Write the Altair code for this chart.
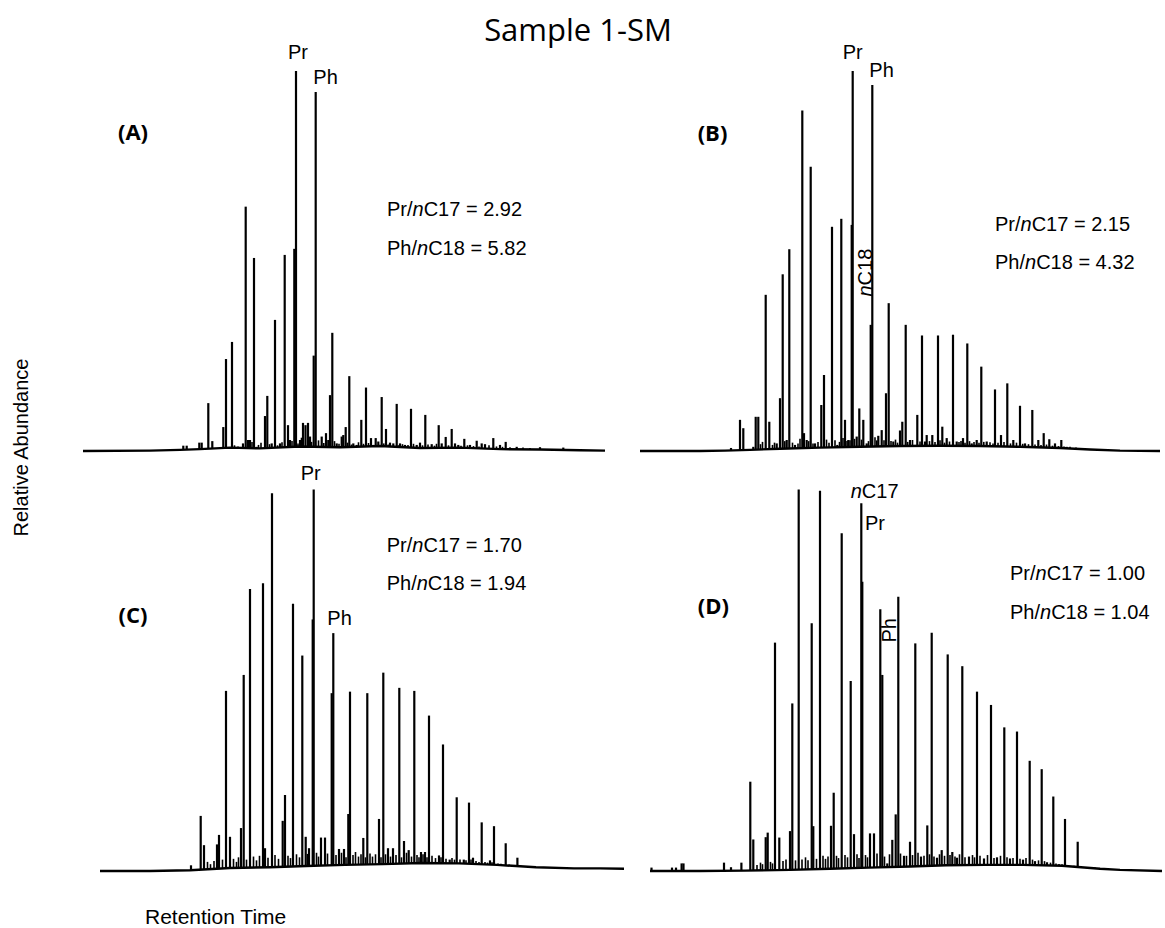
import altair as alt
import numpy as np
import pandas as pd

# ---------------- text ----------------
TITLE = "Sample 1-SM"
Y_TITLE = "Relative Abundance"
X_TITLE = "Retention Time"
PANEL_NAMES = ["(A)", "(B)", "(C)", "(D)"]
PR_NC17 = [2.92, 2.15, 1.70, 1.00]
PH_NC18 = [5.82, 4.32, 1.94, 1.04]

# ---------------- chromatogram data (retention position, relative abundance) ----------------
A_RT = [183.3, 186.7, 199.3, 201.7, 208.3, 212.3, 223.3, 226.0, 232.0, 243.0, 245.7, 248.0, 250.0,
        254.0, 256.7, 265.0, 267.3, 271.7, 275.0, 280.0, 284.7, 288.0, 290.0, 294.3, 296.0, 300.0,
        303.0, 305.5, 308.0, 310.0, 313.7, 315.7, 321.7, 326.0, 328.3, 330.0, 332.3, 336.7, 341.7,
        343.3, 345.7, 349.3, 353.3, 356.7, 361.3, 366.0, 371.0, 375.7, 378.3, 381.7, 386.0, 390.0,
        393.3, 396.7, 400.0, 405.0, 411.0, 416.7, 420.0, 425.3, 431.7, 438.7, 441.7, 445.7, 451.7,
        455.0, 458.3, 464.3, 470.0, 476.7, 481.7, 485.0, 493.3, 500.0, 505.7, 516.7, 540.0, 563.3]
A_H = [1.4, 1.4, 2.2, 2.2, 12.6, 2.6, 6.3, 24.2, 28.7, 2.0, 64.3, 2.9, 2.9,
       50.8, 1.1, 9.2, 14.5, 2.0, 34.5, 2.0, 51.6, 6.8, 2.9, 53.2, 100.0, 2.9,
       7.4, 6.8, 7.4, 3.8, 25.1, 94.5, 3.8, 4.7, 2.9, 14.7, 31.1, 2.0, 3.8,
       4.2, 6.3, 19.7, 2.0, 1.6, 8.2, 16.7, 3.4, 3.4, 2.5, 14.2, 5.8, 2.2,
       2.0, 12.4, 2.0, 1.6, 11.1, 1.6, 2.2, 9.5, 1.8, 6.8, 2.0, 3.7, 5.8,
       2.0, 1.6, 3.2, 1.6, 2.7, 2.0, 1.8, 3.4, 1.6, 2.4, 1.1, 1.0, 0.9]
A_NOISE_RT = [234.5, 238.0, 252.0, 258.5, 261.0, 269.5, 277.5, 282.0, 292.0, 298.0, 301.5, 311.5,
              318.5, 323.8, 334.5, 339.0, 347.5, 351.5, 358.5, 363.5, 368.5, 373.3, 383.8, 388.2,
              398.5, 402.5, 408.0, 413.5, 422.5, 428.0, 434.5, 436.5, 448.5, 461.0, 467.5, 473.5,
              479.0, 489.0, 496.5, 502.5, 510.0, 523.0, 530.0]
A_NOISE_H = [1.5, 1.2, 2.4, 1.6, 2.2, 1.8, 1.5, 2.3, 2.6, 2.0, 3.5, 2.4,
             2.8, 2.1, 2.6, 1.9, 2.2, 1.7, 2.3, 1.9, 2.1, 1.6, 2.0, 1.7,
             1.5, 1.8, 1.6, 1.9, 1.5, 1.7, 1.4, 1.9, 1.5, 1.4, 1.5, 1.3,
             1.2, 1.5, 1.2, 1.1, 1.0, 0.9, 0.8]
A_BASE_RT = [83, 150, 180, 200, 230, 260, 300, 340, 380, 420, 460, 500, 540, 580, 605]
A_BASE_H = [0.0, 0.1, 0.3, 0.5, 0.9, 0.7, 1.2, 1.0, 1.3, 0.8, 0.9, 0.5, 0.4, 0.2, 0.1]

B_RT = [731.0, 740.0, 743.3, 753.3, 755.7, 758.3, 765.7, 769.3, 776.7, 780.0, 782.7, 786.7, 789.3,
        795.0, 802.3, 804.0, 806.7, 810.7, 815.0, 821.3, 824.0, 832.0, 837.3, 841.3, 845.0, 848.3,
        851.7, 852.7, 856.7, 859.3, 863.3, 866.7, 870.7, 872.3, 878.3, 881.7, 886.0, 888.7, 893.3,
        900.0, 902.3, 905.7, 910.0, 917.3, 922.0, 925.0, 926.7, 932.3, 938.0, 942.3, 946.7, 953.0,
        956.7, 963.0, 967.3, 971.7, 976.7, 981.3, 986.7, 995.0, 1001.0, 1007.3, 1013.3, 1020.0,
        1025.0, 1032.3, 1038.3, 1043.7, 1049.3, 1055.0, 1061.3, 1066.7, 1083.3]
B_H = [0.8, 8.2, 6.0, 1.1, 9.0, 9.0, 41.1, 7.7, 2.0, 13.9, 46.5, 2.9, 53.1,
       1.6, 89.6, 4.7, 2.9, 74.8, 2.0, 12.1, 20.0, 59.0, 1.6, 61.1, 8.2, 2.9,
       59.5, 100.0, 3.8, 11.2, 8.2, 2.0, 33.2, 96.3, 4.0, 5.5, 15.2, 38.9, 2.5,
       5.4, 7.7, 33.2, 2.9, 9.5, 30.4, 2.5, 4.2, 4.2, 30.4, 6.4, 3.4, 30.6,
       2.5, 3.4, 28.3, 2.0, 2.9, 22.2, 2.5, 16.2, 4.2, 17.8, 2.9, 11.9,
       2.0, 10.8, 2.9, 4.7, 3.1, 2.0, 2.9, 1.1, 0.7]
B_NOISE_RT = [760.5, 762.5, 772.5, 774.5, 784.8, 792.5, 798.0, 800.0, 808.7, 813.0, 818.0, 826.5,
              829.0, 835.0, 839.5, 843.0, 847.0, 850.0, 854.5, 861.5, 868.5, 875.0, 876.8, 884.0,
              891.0, 895.5, 897.5, 907.7, 912.5, 920.0, 929.5, 935.0, 940.0, 944.5, 949.5, 959.0,
              961.0, 965.0, 969.5, 974.0, 979.0, 983.8, 990.0, 993.0, 998.0, 1004.0, 1010.5, 1016.5,
              1022.7, 1028.5, 1035.0, 1041.0, 1046.5, 1052.5, 1058.5, 1064.0, 1070.0, 1076.0]
B_NOISE_H = [1.8, 2.4, 1.6, 2.2, 2.6, 2.2, 2.0, 3.2, 2.6, 2.0, 2.4, 3.0,
             2.2, 2.8, 2.4, 3.4, 2.6, 2.8, 3.2, 3.0, 2.6, 3.6, 2.8, 2.8,
             2.6, 3.0, 2.2, 2.4, 2.9, 2.5, 2.6, 2.4, 2.8, 2.2, 2.5, 2.4,
             2.6, 2.2, 2.6, 2.4, 2.2, 2.4, 2.3, 2.0, 2.2, 2.4, 2.0, 2.2,
             1.9, 1.8, 1.7, 1.6, 1.7, 1.4, 1.3, 1.2, 1.1, 0.9]
B_BASE_RT = [640, 700, 725, 750, 780, 820, 860, 900, 940, 980, 1020, 1060, 1090, 1120, 1160]
B_BASE_H = [0.0, 0.0, 0.1, 0.3, 0.6, 0.9, 1.1, 1.3, 1.4, 1.3, 1.1, 0.8, 0.4, 0.1, 0.0]

C_RT = [191.0, 200.7, 204.0, 217.0, 219.0, 226.0, 230.0, 241.0, 243.7, 250.0, 263.0, 265.0, 272.0,
        282.7, 285.0, 293.0, 302.3, 305.7, 309.0, 312.7, 313.7, 321.0, 325.0, 331.7, 333.3, 339.0,
        344.0, 348.3, 350.0, 363.3, 367.3, 379.0, 383.3, 388.0, 393.0, 399.3, 404.0, 408.7, 414.3,
        421.0, 425.0, 429.0, 439.0, 443.0, 449.7, 456.7, 463.8, 469.0, 473.0, 481.7, 490.0, 494.0,
        505.7, 517.4, 534.0, 548.0, 559.0]
C_H = [1.5, 14.5, 6.8, 7.0, 9.5, 47.4, 9.0, 11.3, 51.6, 74.2, 75.7, 6.0, 99.4,
       13.2, 20.0, 70.3, 56.7, 9.0, 6.0, 66.2, 100.4, 8.8, 8.8, 46.8, 62.6, 5.8,
       5.8, 15.0, 47.2, 8.7, 46.8, 13.7, 52.2, 6.0, 6.0, 48.2, 7.9, 5.5, 47.4,
       5.0, 5.0, 40.9, 4.1, 33.3, 3.0, 19.4, 3.0, 18.0, 3.5, 12.8, 2.8, 11.8,
       7.3, 3.5, 1.0, 1.0, 1.0]
C_NOISE_RT = [207.5, 210.5, 214.0, 222.5, 233.5, 236.5, 238.5, 246.5, 253.5, 256.5, 259.5, 268.0,
              275.0, 278.5, 288.0, 290.5, 296.5, 299.5, 307.5, 316.5, 318.5, 327.5, 336.0, 341.5,
              346.0, 353.0, 355.5, 358.5, 361.0, 365.5, 370.0, 372.5, 375.5, 381.0, 385.5, 390.5,
              396.0, 401.5, 406.5, 411.5, 417.0, 419.0, 423.0, 427.0, 432.0, 435.5, 441.0, 446.0,
              452.0, 454.5, 460.0, 466.0, 471.0, 476.0, 479.0, 485.0, 487.5, 492.0, 498.0, 501.0,
              509.0, 513.0, 521.0, 525.0, 529.0, 540.0, 553.0, 565.0]
C_NOISE_H = [2.4, 1.8, 2.6, 3.0, 3.2, 2.4, 3.6, 3.0, 3.8, 2.8, 4.0, 3.5,
             4.2, 3.2, 4.0, 3.4, 4.4, 3.6, 4.5, 4.8, 3.8, 4.6, 4.2, 4.8,
             3.6, 4.2, 5.0, 3.8, 4.4, 3.6, 4.6, 3.8, 4.4, 3.6, 4.4, 3.8,
             4.2, 3.6, 4.8, 3.8, 4.2, 3.6, 4.4, 3.6, 4.0, 3.4, 3.6, 3.2,
             3.4, 3.0, 3.0, 2.8, 3.0, 2.6, 2.4, 2.4, 2.2, 2.3, 2.0, 1.9,
             1.7, 1.6, 1.4, 1.3, 1.2, 1.0, 0.9, 0.8]
C_BASE_RT = [100, 150, 190, 230, 270, 306, 345, 383, 421, 459, 497, 536, 574, 600, 624]
C_BASE_H = [0.0, 0.0, 0.2, 0.8, 1.0, 1.3, 1.6, 1.8, 2.1, 2.0, 1.6, 1.0, 0.7, 0.7, 0.6]

D_RT = [651.5, 672.0, 676.0, 681.6, 683.5, 724.0, 731.0, 741.4, 750.3, 753.3, 765.7, 767.7, 775.0,
        779.3, 790.0, 792.3, 798.7, 811.7, 813.3, 820.0, 831.0, 833.7, 841.7, 850.7, 854.0, 861.3,
        862.3, 870.0, 874.0, 880.3, 882.3, 887.3, 892.3, 895.7, 898.3, 904.0, 910.0, 915.3, 921.0,
        927.3, 931.7, 937.0, 941.7, 947.7, 952.3, 957.0, 962.3, 969.0, 977.0, 984.0, 991.0, 997.0,
        1004.3, 1010.0, 1017.0, 1023.0, 1029.7, 1035.0, 1041.7, 1047.0, 1053.3, 1059.0, 1065.0,
        1071.0, 1077.7, 1100.0]
D_H = [0.9, 0.9, 0.9, 2.0, 2.0, 2.2, 1.0, 2.2, 23.5, 8.3, 8.9, 10.1, 60.1,
       8.8, 10.5, 44.1, 100.4, 65.2, 11.8, 100.1, 11.9, 20.6, 88.9, 50.0, 9.7, 96.8,
       76.1, 9.9, 9.9, 68.9, 51.6, 2.0, 8.2, 14.9, 72.2, 4.0, 7.7, 59.9, 3.8,
       12.0, 62.7, 3.5, 5.5, 57.0, 5.0, 3.5, 53.9, 3.8, 47.2, 3.3, 43.7, 3.6,
       37.8, 3.3, 36.7, 3.0, 29.0, 2.6, 26.8, 2.3, 19.6, 1.8, 13.7,
       1.2, 7.7, 0.8]
D_NOISE_RT = [757.0, 760.5, 762.5, 770.5, 772.5, 783.0, 786.0, 795.5, 802.0, 805.5, 808.0, 816.5,
              823.0, 825.5, 828.0, 836.5, 838.5, 845.0, 847.5, 857.0, 859.0, 865.5, 867.5, 877.0,
              884.5, 889.5, 900.5, 906.5, 912.5, 918.0, 924.0, 929.5, 934.0, 939.5, 944.5, 950.0,
              955.0, 959.5, 965.0, 972.5, 974.5, 980.0, 987.5, 994.0, 1000.5, 1007.0, 1013.0,
              1020.0, 1026.0, 1032.5, 1038.5, 1044.5, 1050.5, 1056.0, 1062.0, 1068.0, 1074.0,
              1081.0, 1088.0, 1095.0]
D_NOISE_H = [1.6, 2.2, 1.8, 2.4, 2.0, 2.6, 3.0, 2.8, 3.0, 3.6, 2.8, 3.2,
             4.0, 3.2, 3.8, 4.0, 3.4, 4.2, 3.6, 4.4, 3.4, 4.2, 3.6, 4.6,
             3.8, 4.4, 4.6, 4.0, 4.2, 4.8, 4.0, 4.4, 3.8, 4.4, 4.0, 4.2,
             3.8, 4.4, 3.6, 4.2, 3.6, 4.0, 4.2, 3.4, 4.0, 3.6, 3.4,
             3.2, 3.4, 3.0, 2.8, 2.6, 2.2, 2.0, 1.8, 1.6, 1.4,
             1.2, 1.0, 0.9]
D_BASE_RT = [650, 700, 745, 790, 830, 869, 910, 946, 985, 1023, 1062, 1100, 1120, 1162]
D_BASE_H = [0.0, 0.0, 0.1, 0.3, 0.6, 0.9, 1.2, 1.5, 1.6, 1.6, 1.4, 0.6, 0.3, 0.0]

# ---------------- styling / layout ----------------
SANS = "Liberation Sans"
FS = 20
CW = {"P": .667, "r": .333, "h": .556, "n": .556, "C": .722, "/": .278, " ": .278,
      "=": .584, ".": .278}


def tw(s, fs=FS):
    return sum(CW.get(c, .556) for c in s) * fs


YLAB_W = 40
YBOT = -2.368
GEOM = {
    "A": dict(xdom=[40, 625], width=585, height=460, ytop=118.68),
    "B": dict(xdom=[625, 1165], width=540, height=460, ytop=118.68),
    "C": dict(xdom=[40, 625], width=585, height=420, ytop=108.16),
    "D": dict(xdom=[625, 1165], width=540, height=420, ytop=108.16),
}
# pixel positions inside each panel (annotation placement)
LETTER_XY = {"A": (93, 133), "B": (87.5, 133.5), "C": (93, 156), "D": (88.3, 147)}
RATIO_XY = {"A": (347, 210, 248.5), "B": (370, 224.5, 262.7), "C": (346.7, 86, 124.3),
            "D": (385, 114, 152.7)}
# sx, sy: screen offset (px) of the label anchor from the peak top
PEAK_LABELS = {
    "A": [dict(parts=[("Pr", 0)], at=296.0, sx=2, sy=-18, align="center"),
          dict(parts=[("Ph", 0)], at=315.7, sx=-2.4, sy=-14, align="left")],
    "B": [dict(parts=[("Pr", 0)], at=852.7, sx=0, sy=-17.5, align="center"),
          dict(parts=[("Ph", 0)], at=872.3, sx=-3, sy=-14, align="left"),
          dict(parts=[("n", 1), ("C18", 0)], at=870.7, sx=-4.7, sy=-28.3, align="left", angle=270)],
    "C": [dict(parts=[("Pr", 0)], at=313.7, sx=-3, sy=-15.8, align="center"),
          dict(parts=[("Ph", 0)], at=333.3, sx=-6, sy=-14, align="left")],
    "D": [dict(parts=[("n", 1), ("C17", 0)], at=861.3, sx=-10.6, sy=-11.3, align="left"),
          dict(parts=[("Pr", 0)], at=861.3, sx=3.7, sy=21.2, align="left"),
          dict(parts=[("Ph", 0)], at=880.3, sx=9.2, sy=21.2, align="center", angle=270)],
}


def text_at(txt, x, y, **mk):
    return alt.Chart(pd.DataFrame({"t": [txt]})).mark_text(**mk).encode(
        x=alt.value(x), y=alt.value(y), text="t:N")


def make_panel(key, idx, rt, h, nrt, nh, brt, bh):
    g = GEOM[key]
    xs = alt.Scale(domain=g["xdom"], nice=False, zero=False)
    ys = alt.Scale(domain=[YBOT, g["ytop"]], nice=False, zero=False)
    peaks = pd.DataFrame({"rt": rt, "top": h})
    peaks["bot"] = np.interp(peaks["rt"], brt, bh)
    noise = pd.DataFrame({"rt": nrt, "top": nh})
    noise["bot"] = np.interp(noise["rt"], brt, bh)
    base = pd.DataFrame({"rt": brt, "val": bh})

    X = alt.X("rt:Q", scale=xs, axis=None)
    layers = []
    layers.append(alt.Chart(noise).mark_rule(color="black", strokeWidth=1.6).encode(
        x=X, y=alt.Y("bot:Q", scale=ys, axis=None), y2="top:Q"))
    layers.append(alt.Chart(base).mark_line(color="black", strokeWidth=2.4, strokeJoin="round").encode(
        x=X, y=alt.Y("val:Q", scale=ys, axis=None), order="rt:Q"))
    layers.append(alt.Chart(peaks).mark_rule(color="black", strokeWidth=2.2).encode(
        x=X, y=alt.Y("bot:Q", scale=ys, axis=None), y2="top:Q"))

    # peak labels anchored to their peaks (dx/dy act in the text's rotated frame)
    for lab in PEAK_LABELS[key]:
        i = rt.index(lab["at"])
        off = 0.0
        angle = lab.get("angle", 0)
        for txt, ital in lab["parts"]:
            if angle == 270:
                dx = -lab["sy"] + off
                dy = lab["sx"]
            else:
                dx = lab["sx"] + off
                dy = lab["sy"]
            df = pd.DataFrame({"t": [txt], "rt": [rt[i]], "top": [h[i]]})
            layers.append(alt.Chart(df).mark_text(
                font=SANS, fontSize=FS, fontStyle="italic" if ital else "normal",
                align=lab["align"], baseline="middle", angle=angle, dx=dx, dy=dy,
                color="black").encode(
                x=X, y=alt.Y("top:Q", scale=ys, axis=None), text="t:N"))
            off += tw(txt)

    # panel letter
    lx, ly = LETTER_XY[key]
    layers.append(text_at(PANEL_NAMES[idx], lx, ly, font="Open Sans", fontSize=22,
                          fontWeight="bold", align="center", baseline="middle", color="black"))

    # ratio annotations
    rx, ry1, ry2 = RATIO_XY[key]
    for ry, parts in [(ry1, [("Pr/", 0), ("n", 1), (f"C17 = {PR_NC17[idx]:.2f}", 0)]),
                      (ry2, [("Ph/", 0), ("n", 1), (f"C18 = {PH_NC18[idx]:.2f}", 0)])]:
        off = 0.0
        for txt, ital in parts:
            layers.append(text_at(txt, rx + off, ry, font=SANS, fontSize=FS,
                                  fontStyle="italic" if ital else "normal",
                                  align="left", baseline="middle", color="black"))
            off += tw(txt)

    if key == "A":
        layers.append(text_at(TITLE, 578 - YLAB_W, 41, font="Open Sans", fontSize=31,
                              align="center", baseline="alphabetic", color="black"))
    if key == "C":
        layers.append(text_at(X_TITLE, 145 - YLAB_W, 458, font=SANS, fontSize=21, align="left",
                              baseline="middle", color="black"))

    return alt.layer(*layers).properties(width=g["width"], height=g["height"])


pA = make_panel("A", 0, A_RT, A_H, A_NOISE_RT, A_NOISE_H, A_BASE_RT, A_BASE_H)
pB = make_panel("B", 1, B_RT, B_H, B_NOISE_RT, B_NOISE_H, B_BASE_RT, B_BASE_H)
pC = make_panel("C", 2, C_RT, C_H, C_NOISE_RT, C_NOISE_H, C_BASE_RT, C_BASE_H)
pD = make_panel("D", 3, D_RT, D_H, D_NOISE_RT, D_NOISE_H, D_BASE_RT, D_BASE_H)

ylab = text_at(Y_TITLE, 21.7, 447.5, font=SANS, fontSize=FS, angle=270,
               align="center", baseline="middle", color="black").properties(width=YLAB_W, height=880)

row1 = alt.hconcat(pA, pB, spacing=0, bounds="flush")
row2 = alt.hconcat(pC, pD, spacing=0, bounds="flush")
grid = alt.vconcat(row1, row2, spacing=0)
chart = alt.hconcat(ylab, grid, spacing=0).properties(
    padding=0, background="white").configure_view(strokeWidth=0)

chart.save("out.html", embed_options={"renderer": "svg", "actions": False})
